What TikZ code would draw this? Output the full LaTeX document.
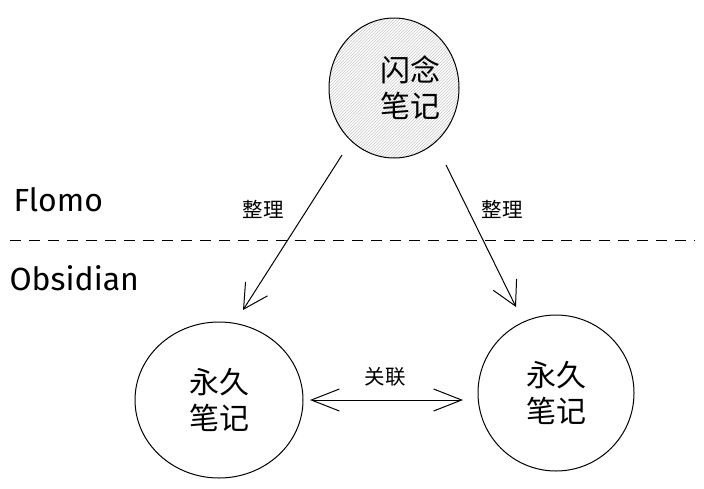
\documentclass[tikz,border=0pt]{standalone}
\usepackage{fontspec}
\setmainfont{Fira Sans}
\newfontfamily\cjk{Noto Sans CJK SC}
\usetikzlibrary{arrows.meta,patterns,shapes.geometric}
\begin{document}
\begin{tikzpicture}[x=1pt,y=-1pt,
  note/.style={draw=black,line width=1pt,ellipse,inner sep=0pt,align=center,font=\cjk\fontsize{30}{36}\selectfont},
  notetext/.style={align=center,inner sep=0pt,font=\cjk\fontsize{30}{36}\selectfont},
  conn/.style={line width=1pt,-{Straight Barb[length=24pt,width=26pt,line width=1pt]}},
  lbl/.style={font=\cjk\fontsize{20.5}{22}\selectfont},
  side/.style={font=\fontsize{32}{34}\selectfont,anchor=west}]
\useasboundingbox (0,0) rectangle (704,488);
\fill[white] (0,0) rectangle (704,488);
% top flash note
\node[note,minimum width=130pt,minimum height=140pt,pattern=north east lines,pattern color=black!22] (flash) at (394,88) {};
\node[notetext] (flashtxt) at (410,88) {闪念\\笔记};
\node[note,minimum width=168pt,minimum height=156pt] (permL) at (219,400) {永久\\笔记};
\node[note,minimum width=156pt,minimum height=156pt] (permR) at (556,393) {永久\\笔记};
% dashed divider
\coordinate (dl) at (10,240);
\coordinate (dr) at (695,240);
\draw[line width=1pt,dash pattern=on 11pt off 8pt] (dl) -- (dr);
\node[side] (flomo) at (10,200) {Flomo};
\node[side] (obs) at (6,278) {Obsidian};
% arrows
\coordinate (a1s) at (342,155);
\coordinate (a1e) at (243,310);
\coordinate (a2s) at (446,165);
\coordinate (a2e) at (516,307);
\draw[conn] (a1s) -- (a1e);
\draw[conn] (a2s) -- (a2e);
\node[lbl] (l1) at (263,209) {整理};
\node[lbl] (l2) at (502,209) {整理};
\coordinate (b1) at (310,400);
\coordinate (b2) at (463,400);
\draw[line width=1pt,{Straight Barb[length=28pt,width=22pt,line width=1pt]}-{Straight Barb[length=28pt,width=22pt,line width=1pt]}] (b1) -- (b2);
\node[lbl] (l3) at (385,377) {关联};
\end{tikzpicture}
\end{document}
